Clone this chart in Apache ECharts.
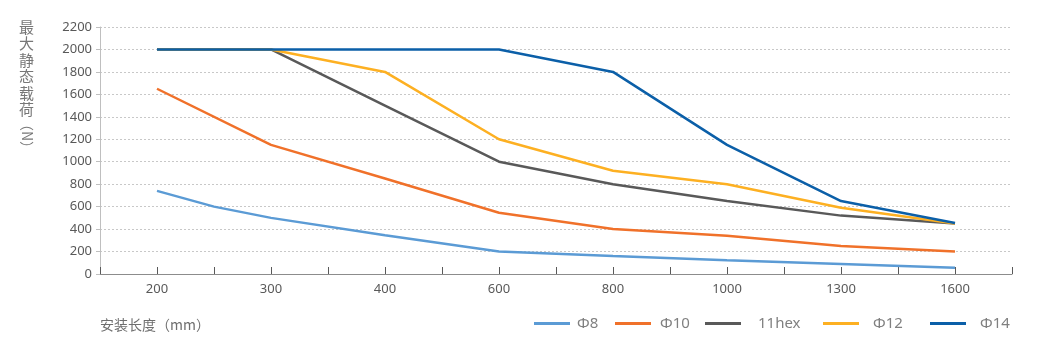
<!DOCTYPE html>
<html>
<head>
<meta charset="utf-8">
<script src="https://cdn.jsdelivr.net/npm/echarts@6/dist/echarts.min.js"></script>
<style>
  html, body { margin: 0; padding: 0; background: #fff; }
  #chart { width: 1042px; height: 351px; }
</style>
</head>
<body>
<div id="chart"></div>
<script>
// x categories: labelled slots every other tick, blanks are the in-between ticks
const xTicks = ['', '200', '', '300', '', '400', '', '600', '', '800', '', '1000', '', '1300', '', '1600', '']
const seriesNames = ['Φ8', 'Φ10', '11hex', 'Φ12', 'Φ14']
const phi8 = [null, 740, 600, 500, null, 345, null, 200, null, 160, null, 122, null, 88, null, 55, null]
const phi10 = [null, 1650, null, 1150, null, 850, null, 545, null, 400, null, 340, null, 250, null, 200, null]
const hex11 = [null, 2000, null, 2000, null, 1500, null, 1000, null, 800, null, 650, null, 520, null, 450, null]
const phi12 = [null, 2000, null, 2000, null, 1800, null, 1200, null, 920, null, 800, null, 590, null, 450, null]
const phi14 = [null, 2000, null, 2000, null, 2000, null, 2000, null, 1800, null, 1150, null, 650, null, 455, null]
const yTicks = [0, 2200, 200] // min, max, step

const colors = ['#5B9BD5', '#F0712A', '#595959', '#FDB022', '#0B5FA8']
const values = [phi8, phi10, hex11, phi12, phi14]
const legendLeft = [529, 610, 700, 818, 925]
const legendPad = [2, 4, 12, 9, 9]

const myChart = echarts.init(document.getElementById('chart'))

const option = {
  animation: false,
  textStyle: { fontFamily: 'Noto Sans, Noto Sans CJK SC, sans-serif' },
  grid: { left: 100, right: 30, top: 27, bottom: 77 },
  legend: seriesNames.map((name, i) => ({
    data: [name],
    left: legendLeft[i],
    top: 311,
    icon: 'rect',
    itemWidth: 36,
    itemHeight: 3,
    textStyle: { color: '#808080', fontSize: 15, padding: [0, 0, 0, legendPad[i]] }
  })),
  xAxis: {
    type: 'category',
    data: xTicks,
    boundaryGap: false,
    axisLine: { lineStyle: { color: '#8c8c8c', width: 1 } },
    axisTick: { inside: true, length: 7, interval: 0, lineStyle: { color: '#595959' } },
    axisLabel: { interval: 0, color: '#595959', fontSize: 13, margin: 9 },
    splitLine: { show: false }
  },
  yAxis: {
    type: 'value',
    min: yTicks[0],
    max: yTicks[1],
    interval: yTicks[2],
    axisLine: { show: true, lineStyle: { color: '#bfbfbf' } },
    axisTick: { show: true, length: 4, lineStyle: { color: '#bfbfbf' } },
    axisLabel: { color: '#595959', fontSize: 13, margin: 8, formatter: v => String(v) },
    splitLine: { lineStyle: { color: '#c8c8c8', type: [2, 2] } }
  },
  series: seriesNames.map((name, i) => ({
    name: name,
    type: 'line',
    data: values[i],
    connectNulls: true,
    symbol: 'none',
    color: colors[i],
    lineStyle: { width: 2.5, color: colors[i] }
  })),
  graphic: [
    {
      type: 'text',
      left: 19,
      top: 19,
      style: {
        text: '最\n大\n静\n态\n载\n荷',
        fill: '#777',
        fontSize: 15,
        lineHeight: 16.5,
        fontFamily: 'Noto Sans CJK SC'
      }
    },
    {
      type: 'text',
      x: 27,
      y: 136,
      rotation: -Math.PI / 2,
      style: {
        text: '（N）',
        fill: '#777',
        fontSize: 14,
        align: 'center',
        verticalAlign: 'middle',
        fontFamily: 'Noto Sans CJK SC'
      }
    },
    {
      type: 'text',
      left: 100,
      top: 318,
      style: {
        text: '安装长度（mm）',
        fill: '#6e6e6e',
        fontSize: 14,
        fontFamily: 'Noto Sans CJK SC'
      }
    }
  ]
}

myChart.setOption(option)
</script>
</body>
</html>
